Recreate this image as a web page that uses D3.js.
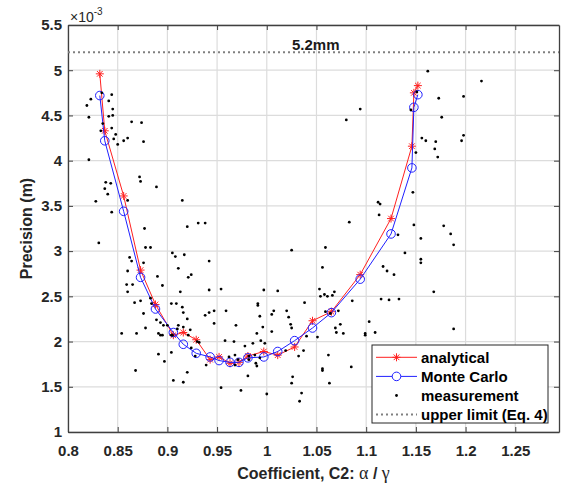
<!DOCTYPE html>
<html>
<head>
<meta charset="utf-8">
<script src="https://cdn.jsdelivr.net/npm/d3@7"></script>
<style>
  body { margin: 0; background: #fff; }
  svg { display: block; font-family: 'Liberation Sans', Arial, sans-serif; }
  .axis text { font-size: 15px; font-weight: bold; fill: #262626; }
  .axis path, .axis line { stroke: #404040; }
  .grid line { stroke: #dcdcdc; stroke-width: 1.2; }
</style>
</head>
<body>
<script>
// values in units of 1e-3 m
const xTicks = [0.8, 0.85, 0.9, 0.95, 1, 1.05, 1.1, 1.15, 1.2, 1.25];
const yTicks = [1, 1.5, 2, 2.5, 3, 3.5, 4, 4.5, 5, 5.5];
const upperLimit = 5.2;

const coeff = [0.832, 0.837, 0.856, 0.873, 0.888, 0.906, 0.916, 0.929, 0.943, 0.952, 0.963, 0.972,
  0.981, 0.997, 1.011, 1.028, 1.046, 1.065, 1.094, 1.125, 1.146, 1.148, 1.152];
const analytical = [4.96, 4.33, 3.61, 2.79, 2.41, 2.07, 2.10, 2.02, 1.80, 1.83, 1.76, 1.77,
  1.84, 1.89, 1.85, 1.94, 2.23, 2.33, 2.74, 3.36, 4.16, 4.75, 4.83];
const monteCarlo = [4.72, 4.22, 3.44, 2.71, 2.36, 2.10, 1.97, 1.87, 1.83, 1.79, 1.77, 1.77,
  1.82, 1.83, 1.89, 2.01, 2.15, 2.32, 2.69, 3.19, 3.92, 4.59, 4.73];

const measX = [
  0.823, 0.834, 0.844, 0.819, 0.841, 0.845, 0.821, 0.841, 0.845, 0.835,
  0.833, 0.844, 0.848, 0.846, 0.850, 0.856, 0.860, 0.864, 0.874, 0.876,
  0.821, 0.872, 0.873, 0.889, 0.838, 0.843, 0.837, 0.840, 0.828, 0.860,
  0.844, 0.915, 0.920, 0.877, 0.931, 0.938, 1.080, 1.094, 1.083, 1.112,
  1.114, 1.113, 1.162, 1.216, 1.151, 1.173, 1.198, 1.145, 1.176, 1.156,
  1.160, 1.170, 1.169, 1.198, 1.196, 1.150, 1.172, 1.147, 1.148, 1.178,
  1.185, 1.132, 1.155, 0.831, 0.878, 0.883, 0.862, 0.864, 0.876, 0.860,
  0.890, 0.859, 0.865, 0.895, 0.860, 0.873, 0.867, 0.883, 0.884, 0.876,
  0.889, 0.893, 0.896, 0.900, 0.878, 0.854, 0.869, 0.891, 0.893, 0.895,
  0.905, 0.905, 0.908, 0.917, 0.911, 0.921, 0.924, 0.913, 0.904, 0.909,
  0.915, 0.916, 0.920, 0.911, 0.916, 0.910, 0.904, 0.923, 0.921, 0.891,
  0.897, 0.904, 0.868, 0.906, 0.916, 0.920, 0.942, 1.025, 0.942, 0.954,
  0.997, 1.011, 0.991, 0.991, 1.038, 1.020, 1.022, 1.024, 1.025, 0.938,
  0.942, 0.947, 0.959, 1.007, 1.005, 0.993, 0.947, 0.969, 0.996, 1.005,
  0.990, 1.040, 0.930, 0.932, 0.958, 0.967, 0.994, 0.998, 0.986, 0.978,
  0.924, 1.019, 1.037, 0.928, 0.962, 0.968, 0.982, 0.982, 0.993, 0.988,
  1.032, 0.939, 0.968, 0.971, 0.989, 0.990, 0.981, 1.026, 1.025, 0.954,
  0.974, 1.000, 1.035, 1.033, 1.059, 1.139, 1.155, 1.155, 1.056, 1.117,
  1.121, 1.128, 1.168, 1.053, 1.054, 1.058, 1.061, 1.066, 1.068, 1.086,
  1.115, 1.123, 1.133, 1.059, 1.064, 1.072, 1.103, 1.074, 1.069, 1.070,
  1.077, 1.099, 1.099, 1.109, 1.051, 1.062, 1.085, 1.056, 1.056, 1.063,
  1.188, 1.188
];
const measY = [
  4.68, 4.75, 4.73, 4.61, 4.66, 4.57, 4.48, 4.49, 4.50, 4.41,
  4.33, 4.36, 4.29, 4.24, 4.18, 4.22, 4.25, 4.43, 4.42, 4.21,
  4.01, 3.82, 3.77, 3.71, 3.76, 3.75, 3.69, 3.63, 3.55, 3.56,
  3.43, 3.56, 3.27, 3.25, 3.31, 3.31, 4.45, 4.57, 3.32, 3.54,
  3.52, 3.40, 4.99, 4.88, 4.76, 4.69, 4.71, 4.56, 4.48, 4.25,
  4.22, 4.21, 4.13, 4.28, 4.22, 4.09, 4.04, 3.65, 3.29, 3.28,
  3.19, 3.18, 3.14, 3.09, 3.04, 3.04, 2.93, 2.89, 2.87, 2.78,
  2.72, 2.63, 2.63, 2.62, 2.55, 2.45, 2.43, 2.48, 2.42, 2.31,
  2.24, 2.21, 2.18, 2.18, 2.15, 2.09, 2.09, 2.09, 2.07, 2.07,
  2.07, 2.98, 2.94, 2.96, 2.81, 2.71, 2.74, 2.55, 2.42, 2.42,
  2.38, 2.32, 2.25, 2.18, 2.16, 2.14, 2.07, 2.13, 2.07, 1.86,
  1.78, 1.88, 1.68, 1.57, 1.55, 1.66, 2.89, 3.01, 2.57, 2.58,
  2.57, 2.56, 2.42, 2.40, 2.43, 2.34, 2.27, 2.19, 2.15, 2.29,
  2.32, 2.34, 2.34, 2.34, 2.30, 2.28, 2.20, 2.18, 2.16, 2.11,
  2.09, 2.06, 2.00, 1.99, 2.01, 2.00, 2.01, 1.98, 1.98, 1.95,
  1.93, 1.90, 1.90, 1.84, 1.83, 1.85, 1.84, 1.80, 1.82, 1.85,
  1.84, 1.74, 1.74, 1.80, 1.76, 1.73, 1.62, 1.61, 1.54, 1.49,
  1.46, 1.42, 1.43, 1.34, 3.04, 2.98, 2.91, 2.87, 2.82, 2.83,
  2.78, 2.74, 2.55, 2.58, 2.50, 2.52, 2.50, 2.51, 2.55, 2.45,
  2.47, 2.46, 2.47, 2.33, 2.31, 2.34, 2.22, 2.19, 2.15, 2.10,
  2.09, 2.09, 2.07, 2.10, 2.05, 1.85, 1.72, 1.70, 1.68, 1.54,
  3.07, 2.14
];

const legendLabels = ['analytical', 'Monte Carlo', 'measurement', 'upper limit (Eq. 4)'];

const width = 562, height = 485;
const plot = { left: 68, right: 559, top: 25, bottom: 432 };

const x = d3.scaleLinear().domain([0.8, 1.294]).range([plot.left, plot.right]);
const y = d3.scaleLinear().domain([1, 5.5]).range([plot.bottom, plot.top]);

const svg = d3.select('body').append('svg')
  .attr('width', width)
  .attr('height', height);

// grid
const grid = svg.append('g').attr('class', 'grid');
grid.selectAll('.gx').data(xTicks).enter().append('line')
  .attr('x1', d => x(d)).attr('x2', d => x(d))
  .attr('y1', plot.top).attr('y2', plot.bottom);
grid.selectAll('.gy').data(yTicks).enter().append('line')
  .attr('x1', plot.left).attr('x2', plot.right)
  .attr('y1', d => y(d)).attr('y2', d => y(d));

// axes (box with inward ticks)
const fmt = d => String(d);
svg.append('g').attr('class', 'axis')
  .attr('transform', `translate(0,${plot.bottom})`)
  .call(d3.axisBottom(x).tickValues(xTicks).tickFormat(fmt).tickSizeInner(-5).tickSizeOuter(0).tickPadding(13));
svg.append('g').attr('class', 'axis')
  .attr('transform', `translate(0,${plot.top})`)
  .call(d3.axisTop(x).tickValues(xTicks).tickFormat('').tickSizeInner(-5).tickSizeOuter(0));
svg.append('g').attr('class', 'axis')
  .attr('transform', `translate(${plot.left},0)`)
  .call(d3.axisLeft(y).tickValues(yTicks).tickFormat(fmt).tickSizeInner(-5).tickSizeOuter(0).tickPadding(6));
svg.append('g').attr('class', 'axis')
  .attr('transform', `translate(${plot.right},0)`)
  .call(d3.axisRight(y).tickValues(yTicks).tickFormat('').tickSizeInner(-5).tickSizeOuter(0));
svg.selectAll('.axis .domain').attr('stroke-width', 1.3);

const starPath = s => `M${-s},0H${s}M0,${-s}V${s}M${-s * 0.7},${-s * 0.7}L${s * 0.7},${s * 0.7}M${-s * 0.7},${s * 0.7}L${s * 0.7},${-s * 0.7}`;

const line = d3.line().x(d => x(d[0])).y(d => y(d[1]));
const redData = coeff.map((c, i) => [c, analytical[i]]);
const blueData = coeff.map((c, i) => [c, monteCarlo[i]]);

// analytical
svg.append('path').datum(redData)
  .attr('d', line).attr('fill', 'none').attr('stroke', '#ff2020').attr('stroke-width', 1);
svg.selectAll('.star').data(redData).enter().append('path')
  .attr('transform', d => `translate(${x(d[0])},${y(d[1])})`)
  .attr('d', starPath(4)).attr('stroke', '#ff2020').attr('stroke-width', 1).attr('fill', 'none');

// Monte Carlo
svg.append('path').datum(blueData)
  .attr('d', line).attr('fill', 'none').attr('stroke', '#2020ff').attr('stroke-width', 1);
svg.selectAll('.mc').data(blueData).enter().append('circle')
  .attr('cx', d => x(d[0])).attr('cy', d => y(d[1])).attr('r', 4.3)
  .attr('fill', 'none').attr('stroke', '#2020ff').attr('stroke-width', 1);

// measurement
svg.selectAll('.meas').data(measX.map((v, i) => [v, measY[i]])).enter().append('circle')
  .attr('cx', d => x(d[0])).attr('cy', d => y(d[1])).attr('r', 1.4)
  .attr('fill', '#000');

// upper limit
svg.append('line')
  .attr('x1', plot.left).attr('x2', plot.right)
  .attr('y1', y(upperLimit)).attr('y2', y(upperLimit))
  .attr('stroke', '#808080').attr('stroke-width', 2).attr('stroke-dasharray', '2,3');
svg.append('text')
  .attr('x', 292).attr('y', y(upperLimit) - 2)
  .attr('font-size', 15).attr('font-weight', 'bold').attr('fill', '#1a1a1a')
  .text('5.2mm');

// exponent
const expo = svg.append('text').attr('x', 70).attr('y', 22).attr('fill', '#262626').attr('font-size', 14);
expo.append('tspan').text('×10');
expo.append('tspan').attr('font-size', 10).attr('dy', -7).text('-3');

// axis labels
const xl = svg.append('text')
  .attr('x', (plot.left + plot.right) / 2).attr('y', 479)
  .attr('text-anchor', 'middle').attr('font-size', 16).attr('font-weight', 'bold').attr('fill', '#262626');
xl.append('tspan').text('Coefficient, C2: ');
xl.append('tspan').attr('font-family', "'Liberation Serif', serif").attr('font-weight', 'normal').attr('font-size', 18).text('α');
xl.append('tspan').text(' / ');
xl.append('tspan').attr('font-family', "'Liberation Serif', serif").attr('font-weight', 'normal').attr('font-size', 18).text('γ');

svg.append('text')
  .attr('transform', `translate(32,${(plot.top + plot.bottom) / 2}) rotate(-90)`)
  .attr('text-anchor', 'middle').attr('font-size', 16).attr('font-weight', 'bold').attr('fill', '#262626')
  .text('Precision (m)');

// legend
const lg = svg.append('g').attr('transform', 'translate(372,345)');
lg.append('rect').attr('width', 176).attr('height', 78)
  .attr('fill', '#fff').attr('stroke', '#262626').attr('stroke-width', 1);
const rows = lg.selectAll('.row').data(legendLabels).enter().append('g')
  .attr('transform', (d, i) => `translate(0,${12.3 + i * 19.1})`);
rows.append('text').attr('x', 49).attr('dy', '0.35em')
  .attr('font-size', 15).attr('font-weight', 'bold').attr('fill', '#000')
  .text(d => d);
rows.filter((d, i) => i === 0).each(function () {
  const g = d3.select(this);
  g.append('line').attr('x1', 4).attr('x2', 45).attr('stroke', '#ff2020');
  g.append('path').attr('transform', 'translate(24.5,0)').attr('d', starPath(4)).attr('stroke', '#ff2020').attr('fill', 'none');
});
rows.filter((d, i) => i === 1).each(function () {
  const g = d3.select(this);
  g.append('line').attr('x1', 4).attr('x2', 45).attr('stroke', '#2020ff');
  g.append('circle').attr('cx', 24.5).attr('r', 4.3).attr('stroke', '#2020ff').attr('fill', '#fff');
});
rows.filter((d, i) => i === 2).append('circle').attr('cx', 24.5).attr('r', 1.4).attr('fill', '#000');
rows.filter((d, i) => i === 3).append('line').attr('x1', 4).attr('x2', 45)
  .attr('stroke', '#808080').attr('stroke-width', 2).attr('stroke-dasharray', '2,3');
</script>
</body>
</html>
